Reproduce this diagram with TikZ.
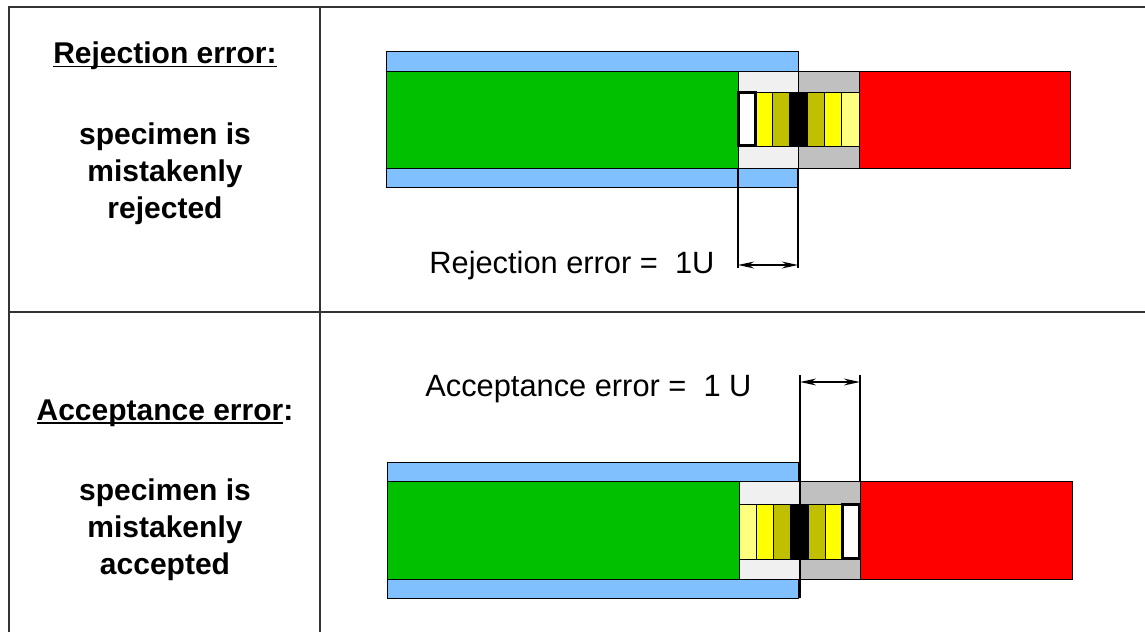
\documentclass[tikz,border=0pt]{standalone}
\usepackage{fontspec}
\setmainfont{Liberation Sans}
\usetikzlibrary{positioning, arrows.meta}

\definecolor{tubeblue}{HTML}{80C0FF}
\definecolor{specgreen}{HTML}{00C000}
\definecolor{specred}{HTML}{FF0000}
\definecolor{sleevelight}{HTML}{F0F0F0}
\definecolor{sleevegray}{HTML}{C0C0C0}
\definecolor{bandyellow}{HTML}{FFFF00}
\definecolor{bandolive}{HTML}{C0C000}
\definecolor{bandpale}{HTML}{FFFF80}

% underline close to the baseline
\newcommand\headline[1]{\setbox0\hbox{#1}\rlap{\rule[-1.8pt]{\wd0}{0.9pt}}\box0}

\begin{document}
\begin{tikzpicture}[x=0.5pt, y=-0.5pt,
    part/.style={draw=black, line width=0.5pt},
    frame/.style={draw=black!80, line width=0.75pt},
    dim/.style={line width=0.9pt, {Stealth[length=8pt, width=3.4pt]}-{Stealth[length=8pt, width=3.4pt]}},
    head/.style={font=\fontsize{15}{18.5}\selectfont\bfseries, inner sep=0pt},
    lbl/.style={font=\fontsize{15.4}{18.5}\selectfont, inner sep=0pt}]

    % Page
    \useasboundingbox (0,0) rectangle (1145,632);

    % Table lines
    \draw[frame] (9,632) -- (9,7) -- (1145,7);
    \draw[frame] (320,7) -- (320,632);
    \draw[frame] (9,312) -- (1145,312);

    % Left column texts
    \node[head] (rejhead) at (165,56) {\headline{Rejection error:}};
    \node[head, align=center] (rejtext) at (165,174) {specimen is\\mistakenly\\rejected};
    \node[head] (acchead) at (165,413) {\headline{Acceptance error}:};
    \node[head, align=center] (acctext) at (165,530) {specimen is\\mistakenly\\accepted};

    % Upper specimen
    \fill[tubeblue, part] (386,51) rectangle (798,71);
    \fill[tubeblue, part] (386,168) rectangle (798,187);
    \fill[specgreen, part] (386,71) rectangle (738,168);
    \fill[sleevelight, part] (738,71) rectangle (798,168);
    \fill[sleevegray, part] (798,71) rectangle (859,168);
    \fill[specred, part] (859,71) rectangle (1070,168);
    \foreach \c [count=\i from 0] in {white, bandyellow, bandolive, black, bandolive, bandyellow, bandpale}{
        \fill[\c, part] ({738+\i*17.3},92) rectangle ({738+(\i+1)*17.3},146);
    }
    \draw[line width=1.2pt] (738.5,92.5) rectangle (755.3,145.5);

    % Rejection dimension
    \coordinate (rejA) at (738,265);
    \coordinate (rejB) at (798,265);
    \draw[line width=0.9pt] (738,168) -- (738,268);
    \draw[line width=0.9pt] (798,168) -- (798,268);
    \draw[dim] (rejA) -- (rejB);
    \node[lbl, anchor=west] (rejlbl) at (429,266) {Rejection error = \ 1U};

    % Lower specimen
    \fill[tubeblue, part] (387,462) rectangle (798,481);
    \fill[tubeblue, part] (387,579) rectangle (798,598);
    \fill[specgreen, part] (387,481) rectangle (739,579);
    \fill[sleevelight, part] (739,481) rectangle (800,579);
    \fill[sleevegray, part] (800,481) rectangle (860,579);
    \fill[specred, part] (860,481) rectangle (1072,579);
    \foreach \c [count=\i from 0] in {bandpale, bandyellow, bandolive, black, bandolive, bandyellow, white}{
        \fill[\c, part] ({739+\i*17.3},504) rectangle ({739+(\i+1)*17.3},559);
    }
    \draw[line width=1.2pt] (842.5,504.5) rectangle (859.3,558.5);

    % Acceptance dimension
    \coordinate (accA) at (800,382);
    \coordinate (accB) at (860,382);
    \draw[line width=0.9pt] (800,375) -- (800,598);
    \draw[line width=0.9pt] (860,375) -- (860,481);
    \draw[dim] (accA) -- (accB);
    \node[lbl, anchor=west] (acclbl) at (425,389) {Acceptance error = \ 1 U};

\end{tikzpicture}
\end{document}
